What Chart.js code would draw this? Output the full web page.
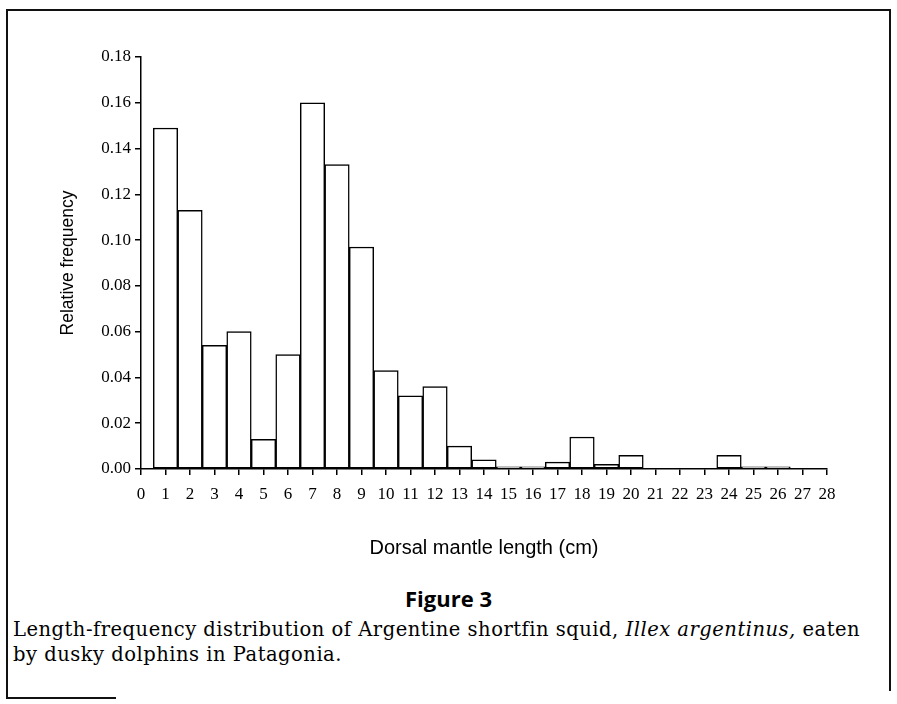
<!DOCTYPE html>
<html>
<head>
<meta charset="utf-8">
<script src="https://cdn.jsdelivr.net/npm/chart.js@4"></script>
<style>
  html, body { margin: 0; padding: 0; background: #fff; }
  body { width: 897px; height: 704px; position: relative; overflow: hidden; }
  #chartBox { position: absolute; left: 0; top: 0; width: 897px; height: 580px; }
  .frame { position: absolute; background: #111; }
  .fig-title {
    position: absolute; left: 0; width: 897px; top: 583px;
    text-align: center; font-family: "Open Sans", sans-serif; font-weight: 700;
    font-size: 22px; color: #000;
  }
  .caption {
    position: absolute; left: 13px; top: 617px; width: 880px; white-space: nowrap;
    font-family: "DejaVu Serif", serif; font-size: 19.5px; letter-spacing: 0.5px;
    line-height: 25px; color: #000;
  }
</style>
</head>
<body>
<!-- outer frame of the printed figure -->
<div class="frame" style="left:6px; top:9px; width:2px; height:690px;"></div>
<div class="frame" style="left:6px; top:9px; width:885px; height:2px;"></div>
<div class="frame" style="left:889px; top:9px; width:2px; height:682px;"></div>
<div class="frame" style="left:6px; top:697px; width:110px; height:2px;"></div>

<div id="chartBox"><canvas id="lengthChart" width="897" height="580"></canvas></div>

<div class="fig-title">Figure 3</div>
<div class="caption">Length-frequency distribution of Argentine shortfin squid, <i>Illex argentinus,</i> eaten<br>by dusky dolphins in Patagonia.</div>

<script>
// Dorsal mantle length classes (cm) - tick labels along x
const lengthLabels = ['0', '1', '2', '3', '4', '5', '6', '7', '8', '9', '10', '11', '12', '13', '14',
                      '15', '16', '17', '18', '19', '20', '21', '22', '23', '24', '25', '26', '27', '28'];

// Relative frequency per length class
const relFreq = [null, 0.149, 0.113, 0.054, 0.060, 0.013, 0.050, 0.160, 0.133, 0.097, 0.043,
                 0.032, 0.036, 0.010, 0.004, 0.001, 0.001, 0.003, 0.014, 0.002, 0.006,
                 0, 0, 0, 0.006, 0.001, 0.001, 0, null];

const yTicks = { min: 0, max: 0.18, step: 0.02 };

const serif = 'Liberation Serif';
const sans = 'Liberation Sans';

const ctx = document.getElementById('lengthChart').getContext('2d');
new Chart(ctx, {
  type: 'bar',
  data: {
    labels: lengthLabels,
    datasets: [{
      data: relFreq,
      backgroundColor: '#ffffff',
      borderColor: '#000000',
      borderWidth: 1.5,
      borderSkipped: false,
      barPercentage: 1.0,
      categoryPercentage: 1.0
    }]
  },
  options: {
    responsive: false,
    animation: false,
    layout: { padding: { left: 54, top: 57, right: 70, bottom: 16 } },
    plugins: { legend: { display: false }, tooltip: { enabled: false } },
    scales: {
      x: {
        offset: false,
        grid: { offset: false, drawOnChartArea: false, drawTicks: true, tickLength: 6, tickColor: '#000', lineWidth: 1.5 },
        border: { display: true, color: '#000', width: 1.5 },
        ticks: { autoSkip: false, maxRotation: 0, color: '#000', padding: 9, font: { family: serif, size: 17 } },
        title: { display: true, text: 'Dorsal mantle length (cm)', color: '#000', font: { family: sans, size: 20 } },
        afterFit: s => { s.height = 95; }
      },
      y: {
        min: yTicks.min,
        max: yTicks.max,
        grid: { drawOnChartArea: false, drawTicks: true, tickLength: 6, tickColor: '#000', lineWidth: 1.5 },
        border: { display: true, color: '#000', width: 1.5 },
        ticks: {
          stepSize: yTicks.step, color: '#000', padding: 4,
          font: { family: serif, size: 17 },
          callback: v => v.toFixed(2)
        },
        title: { display: true, text: 'Relative frequency', color: '#000', font: { family: sans, size: 17.5 } },
        afterFit: s => { s.width = 87; }
      }
    }
  }
});
</script>
</body>
</html>
